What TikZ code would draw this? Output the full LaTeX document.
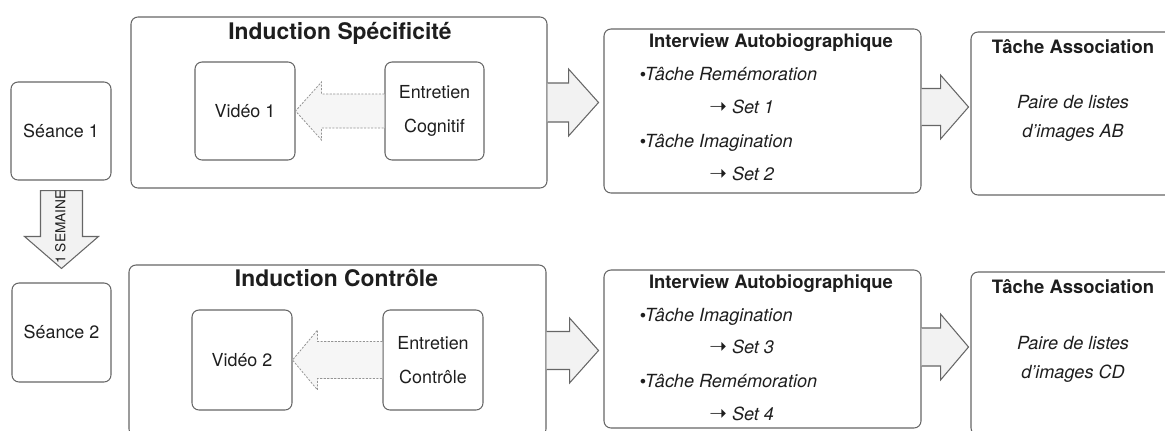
\documentclass[tikz,border=0pt]{standalone}
\usepackage{fontspec}
\setmainfont{TeX Gyre Heros}
\newfontfamily\symfont{DejaVu Sans}
\usetikzlibrary{positioning,calc}

\definecolor{edgegray}{HTML}{666666}
\definecolor{arrowfill}{HTML}{F2F2F2}
\definecolor{inkgray}{HTML}{1E1E1E}
\newcommand{\pxu}{0.02cm}
\newcommand{\setto}{{\upshape\symfont\fontsize{12}{12}\selectfont ➝}}
\newcommand{\dotmark}{{\upshape\symfont\fontsize{9}{12}\selectfont •}\kern-1.6pt}

\newcommand{\harrow}[6]{%
	\filldraw[#1] ($(#2 |- #3)+(0,-#4)$) -- ($(#3)+({-1*(#6)},-#4)$) -- ($(#3)+({-1*(#6)},-#5)$) -- (#3)
		-- ($(#3)+({-1*(#6)},#5)$) -- ($(#3)+({-1*(#6)},#4)$) -- ($(#2 |- #3)+(0,#4)$);}
\newcommand{\varrow}[6]{%
	\filldraw[#1] ($(#2 -| #3)+(-#4,0)$) -- ($(#3)+(-#4,-#6)$) -- ($(#3)+(-#5,-#6)$) -- (#3)
		-- ($(#3)+(#5,-#6)$) -- ($(#3)+(#4,-#6)$) -- ($(#2 -| #3)+(#4,0)$) -- cycle;}

\begin{document}
\begin{tikzpicture}[x=0.02cm,y=-0.02cm,
	box/.style={draw=edgegray,line width=0.6pt,rounded corners=4pt,inner sep=0pt,text=inkgray,
		font=\fontsize{10.2}{19}\selectfont,align=center},
	single/.style={box,text height=7.2pt,text depth=0pt},
	txt/.style={text=inkgray,font=\fontsize{10.3}{12}\selectfont,inner sep=0pt,anchor=base},
	itl/.style={txt,font=\fontsize{10.3}{12}\selectfont\itshape},
	item/.style={itl,anchor=base west},
	headtxt/.style={txt,font=\fontsize{10.5}{12}\selectfont\bfseries},
	bigtitle/.style={txt,font=\fontsize{13}{15}\selectfont\bfseries},
	bigarrow/.style={draw=edgegray,fill=arrowfill,line width=0.6pt},
	dasharrow/.style={draw=edgegray!70,fill=arrowfill!70,line width=0.45pt,dash pattern=on 1.2pt off 0.8pt}]
	\useasboundingbox (0,0) rectangle (1165,430);

	\node[single,minimum width=100*\pxu,minimum height=98*\pxu] (s1) at (61,131) {Séance 1};
	\node[single,minimum width=99*\pxu,minimum height=99*\pxu] (s2) at (61.5,332.5) {Séance 2};

	\node[box,minimum width=416*\pxu,minimum height=171*\pxu] (ind1) at (339,102.5) {};
	\node[bigtitle] (ind1t) at (340,39) {Induction Spécificité};
	\node[single,minimum width=100*\pxu,minimum height=98*\pxu] (vid1) at (245,111) {Vidéo 1};
	\node[box,minimum width=99*\pxu,minimum height=98*\pxu] (cog1) at (434.5,111) {Entretien\\Cognitif};

	\node[box,minimum width=417*\pxu,minimum height=171*\pxu] (ind2) at (337.5,350.5) {};
	\node[bigtitle] (ind2t) at (336.5,286) {Induction Contrôle};
	\node[single,minimum width=100*\pxu,minimum height=100*\pxu] (vid2) at (242,360) {Vidéo 2};
	\node[box,minimum width=100*\pxu,minimum height=100*\pxu] (ctl2) at (433,360) {Entretien\\Contrôle};

	\node[box,minimum width=317*\pxu,minimum height=164*\pxu] (int1) at (762.5,111) {};
	\node[headtxt] (int1t) at (771,47) {Interview Autobiographique};
	\node[item] (int1a) at (638,80) {\dotmark Tâche Remémoration};
	\node[item] (int1b) at (709,113) {\setto\ Set 1};
	\node[item] (int1c) at (638,147) {\dotmark Tâche Imagination};
	\node[item] (int1d) at (709,180) {\setto\ Set 2};

	\node[box,minimum width=317*\pxu,minimum height=158*\pxu] (int2) at (762.5,349) {};
	\node[headtxt] (int2t) at (771,288) {Interview Autobiographique};
	\node[item] (int2a) at (638,321) {\dotmark Tâche Imagination};
	\node[item] (int2b) at (709,353) {\setto\ Set 3};
	\node[item] (int2c) at (638,387) {\dotmark Tâche Remémoration};
	\node[item] (int2d) at (709,420) {\setto\ Set 4};

	\node[box,minimum width=205*\pxu,minimum height=163*\pxu] (ass1) at (1073.5,113.5) {};
	\node[headtxt] (ass1t) at (1073,53) {Tâche Association};
	\node[itl] (ass1a) at (1073,108) {Paire de listes};
	\node[itl] (ass1b) at (1073,137) {d'images AB};

	\node[box,minimum width=205*\pxu,minimum height=163*\pxu] (ass2) at (1073.5,353.5) {};
	\node[headtxt] (ass2t) at (1073,293) {Tâche Association};
	\node[itl] (ass2a) at (1073,349) {Paire de listes};
	\node[itl] (ass2b) at (1073,378) {d'images CD};

	\coordinate (t1) at ($(ind1.east)+(51,0)$);
	\coordinate (t2) at ($(int1.east)+(47,-4)$);
	\coordinate (t3) at ($(ind2.east)+(52,0)$);
	\coordinate (t4) at ($(int2.east)+(47,-2)$);
	\coordinate (w0) at ($(s1.south)+(0,10)$);
	\coordinate (w1) at ($(s2.north)+(0,-14)$);

	\harrow{bigarrow}{ind1.east}{t1}{19.5}{33.5}{30}
	\harrow{bigarrow}{int1.east}{t2}{18.5}{32}{28}
	\harrow{bigarrow}{ind2.east}{t3}{19}{32.5}{29}
	\harrow{bigarrow}{int2.east}{t4}{19}{33}{28}
	\harrow{dasharrow}{cog1.west}{vid1.east}{17}{29}{-26}
	\harrow{dasharrow}{ctl2.west}{vid2.east}{18.5}{30}{-25}
	\varrow{bigarrow}{w0}{w1}{21}{37}{32}
	\node[txt,font=\fontsize{7.8}{9}\selectfont,rotate=90,anchor=center] (wk) at (60.5,227) {1 SEMAINE};
\end{tikzpicture}
\end{document}
